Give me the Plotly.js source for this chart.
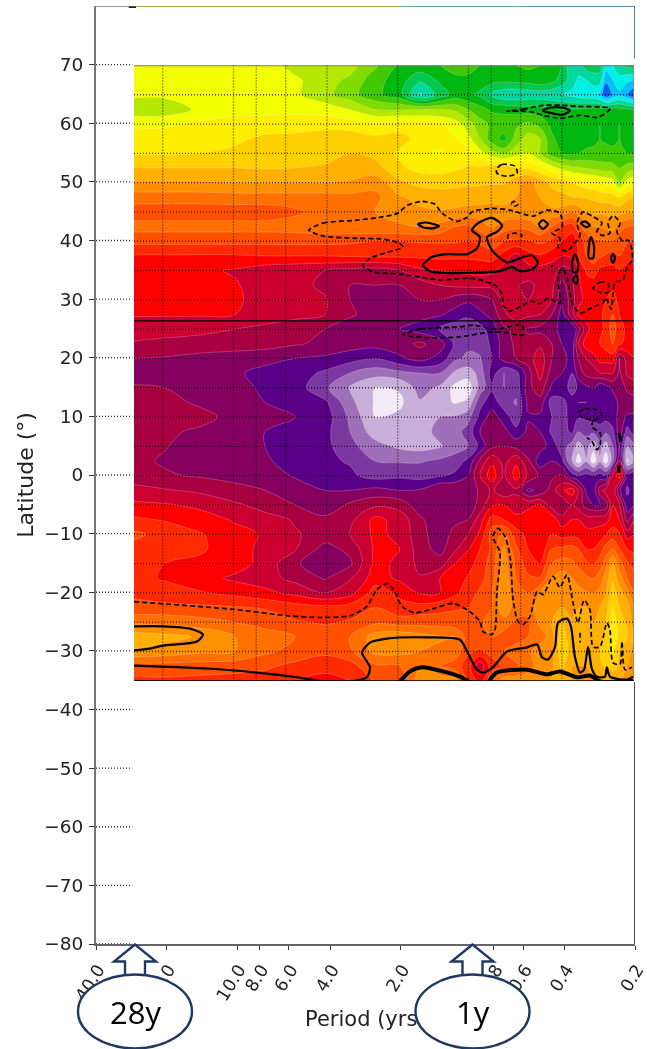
<!DOCTYPE html>
<html><head><meta charset="utf-8">
<script src="https://cdn.plot.ly/plotly-3.0.1.min.js"></script>
<style>html,body{margin:0;padding:0;background:#fff}#chart{width:647px;height:1049px;filter:blur(0.35px)}</style>
</head><body><div id="chart"></div>
<script>
// ---- data -----------------------------------------------------------------
const periods = [26.5,19.56,13.9,9.85,7.34,5.47,4.08,3.19,2.5,1.96,1.61,1.32,1.14,1.006,0.894,0.794,0.706,0.628,0.558,0.496,0.442,0.4,0.362,0.341,0.315,0.294,0.276,0.26,0.243,0.228,0.211,0.1975];
const latitudes = [70,67.5,65,62.5,60,57.5,55,52.5,50,47.5,45,42.5,40,37.5,35,32.5,30,27.5,25,22.5,20,17.5,15,12.5,10,7.5,5,2.5,0,-2.5,-5,-7.5,-10,-12.5,-15,-17.5,-20,-22.5,-25,-27.5,-30,-32.5,-35];
const row70=[16.5,16.5,16.5,16.5,16.5,17.4,17.5,17.6,18.8,20.2,20.3,20,19.5,19.5,20,20.2,20,20,19.8,20,20.2,21,23,22.5,21.5,21.5,21.5,23.5,23,22,21.7,21.5];
const row67=[16.5,16.5,16.5,16.5,16.5,16.8,17.6,18.2,19.6,20.5,21.8,20.8,20.3,20.3,20.5,20.6,20.7,20.6,20.5,20.3,20.6,21.5,22.5,23.2,23,22.5,22.5,24.8,24,23.5,23.8,24];
const row65=[16.8,16.8,16.6,16.5,16.5,16.8,17.7,18.6,19.7,20.6,23.2,21.6,20.6,20.8,21.2,22.3,22.8,22.9,22.7,22.6,22.8,23,23.3,23.5,23.7,23.8,24.2,25.8,24.8,24.2,25,26];
const row62=[17.6,17.6,16.8,16.4,16.4,16.3,16.4,17,18,18.1,18,18,18.2,19,19.6,20.2,20.3,20.4,20.5,20.6,20.8,21,21,20.9,20.8,20.7,20.6,20.7,20.7,20.7,20.9,21];
const row60=[16.2,16.2,15.8,15.6,15.5,15.5,15.5,15.6,15.8,15.6,15.6,15.9,16.5,17.5,18.6,19.2,19.4,19.2,18.8,19.3,20.3,20.5,20.2,20,20.2,20.3,20,20.2,20.3,20,20.1,20.2];
const row57=[15.5,15.5,15.4,15.2,14.8,14.7,14.3,14.3,14.8,14.6,15.4,15.6,15.9,16.6,18,19.6,20.3,18.6,17.5,18,19.8,20.5,20.2,20.4,20.4,20.2,20,20.1,20.2,20,20.3,20.4];
const row55=[15.1,15.1,15,14.8,14.6,14.6,14.3,14,14.3,15.2,15.9,16.1,15.7,15.6,16.6,17.6,18.3,17.4,17,18,19.6,20,20.2,20,19.8,19.8,19.8,19.8,19.8,20,20,20];
const row52=[14,14,14,14,14.1,14,13.9,13.5,13.6,14.8,15.4,15.4,15.2,14.9,14.8,14.4,14.4,14.9,15.2,15.8,16.5,17.3,17.8,17.9,18.1,18.2,18.4,18.5,18.6,19,18.6,18.4];
const row50=[12.9,12.9,12.9,13,13,13,13,12.9,12.4,13.8,14.3,14.4,14.3,14.2,14.2,14.1,14.1,13.5,12.6,13.5,14.2,14.4,15,15.3,15.6,15.7,16,16.2,16.5,18,16.5,16];
const row47=[11.5,11.5,11.5,11.6,11.6,11.6,11.6,11.7,11.7,12.9,13.3,13.5,13.5,13.4,13.3,13.3,13.3,13,12.2,13,13.7,13.8,14,14,14.1,14.2,14.5,14.5,14.6,15,14.3,14];
const row45=[10.4,10.4,10.4,10.4,10.4,10.8,11.5,11.7,12,12.3,12.8,12.9,12.8,12.7,12.7,12.6,12.7,12.8,12.8,12.7,12.7,12.6,12,12.4,13,13.3,13.2,13.2,13.3,13.4,13.1,13];
const row42=[11.4,11.4,11.4,11.4,11.4,11.5,11.7,11.8,11.9,11.9,12,11.7,11,10.8,11.4,12.2,11.5,11.2,11.3,12,11,10,9.5,10.6,11.6,12,12,12.3,12.5,11.5,11,10.8];
const row40=[10.3,10.3,10.3,10.3,10.3,10.3,10.3,10.2,10,10,10.1,10.1,10.1,10,10.2,10.6,10,9.8,9.9,10.2,9.9,9,8.4,9.2,10.4,10.8,10.9,10.9,10.9,10.4,10.1,10];
const row37=[8.9,8.9,8.9,8.9,9,9,9,9.1,9.2,9.2,9.2,9.3,9.2,9.2,9.3,9.5,8.6,7.6,8.6,8.9,8.3,8,8.2,9,10,10.4,10.2,9.9,9.6,10,9.2,9];
const row35=[8.3,8.3,8.2,7.9,7.4,7.2,7,6.7,6.5,7,7.8,8,8.2,8.3,8.3,8.2,7.5,7.3,7.5,7.5,7.6,6.6,7,8,9.2,9.6,8.7,8.6,8.6,8.9,8.8,8.8];
const row32=[8.3,8.3,8.3,8.1,7.5,7.3,6.8,6,6,6,6.5,7,7.2,7.3,7.3,7.3,7.2,7.1,6.8,7.2,7.3,5.6,6.8,7.9,8.3,8.4,8.5,8.6,8.6,8.4,8.5,8.5];
const row30=[8.9,8.2,8.2,8.2,7.5,7.3,7.1,6,5.6,5.6,6,6,5.5,5.2,5.4,6,7.3,7.8,7,7.1,7,5.2,6.5,7.8,8.2,8.2,8.3,9,9.6,8.6,8.2,8.1];
const row27=[8.1,8.1,8.1,8,7.4,7.2,7,6.1,5.7,5.5,5.3,5.1,4.6,4.2,4.8,5.3,6.8,7.5,7.2,7,6,4.6,6.7,8.2,8.6,8.6,8.7,9.4,10,9,8.5,8.4];
const row25=[7.4,7.3,7.2,7,6.8,6.6,6,5.6,5.2,5,4.6,3.9,3.4,3.3,3.6,4.5,5.8,6.3,5.9,5.7,5.5,4.6,4,5.6,7.6,8.5,8.5,9.5,10.4,9.5,8.7,8.5];
const row22=[6.9,6.8,6.7,6.6,6.5,6.1,5.8,5.5,5.4,5.6,6.2,5.5,3.8,3.2,3.4,4.2,5.5,6.2,6.2,6.8,6,5,4.4,7,8.6,9,9,9.5,10,9.2,8.6,8.5];
const row20=[6,5.9,5.6,5.4,5.2,5,4.8,4.4,4,4.8,5.4,4.6,3.2,2.8,2.9,4,5.5,6,6.5,7.6,6,5.4,4.6,6,7,7.5,8.4,8.4,8.5,6,7.5,8];
const row17=[5.2,5.3,5.3,5.1,4.8,4.5,3.8,3,2.4,2.7,3,3,1.8,1.4,2.4,4.5,3,3.6,5.5,7.4,5.5,5,4,5.5,6.3,6.5,7,7,7,5.8,7.2,7.5];
const row15=[6.2,6,5.6,5.2,4.9,4.5,3.2,1.9,1,1.1,2.4,1.8,0.7,0.4,2.4,3.8,3,3.3,5.6,6.6,4.8,4.8,3.4,4.2,4.8,5,4.2,4.6,5.2,5.4,6.2,6.5];
const row12=[6.3,6.2,5.9,5.3,5,4.7,4.2,2.3,0.9,0.8,1.9,1.4,0.9,1.2,3.7,4.5,3.5,2.9,5.2,5.6,3.5,3.6,4.6,4,4,4.3,4,4.2,4.5,5.2,5.4,5.6];
const row10=[6.3,6.3,6.2,5.8,5.2,5,4.5,2.8,1,1.2,1.9,2,2.1,2.6,4.3,5.5,4.5,3.4,4.9,4.8,4,3.6,4.4,4.1,4.2,4.4,4.2,4.3,4.5,5.3,4.9,4.8];
const row7=[6.2,6.1,5.9,5.3,5,4.8,4.3,3,1.5,1.2,1.6,2.3,2.6,3.4,5,6,5.4,4.3,5.2,5,3.8,3.6,4.2,3,3.3,3.2,3.8,3.2,3.8,5.6,3.5,4.5];
const row5=[6.2,6.05,5.6,5.2,5,4.8,4.3,3.3,2.4,1.8,1.6,1.9,2.5,2.9,4.3,5.8,6,5.7,5.2,5.4,4.6,3.4,2.5,1.5,2.4,1.3,2.4,1.4,3,5,2,2.8];
const row2=[6.2,5.9,5.3,5.2,5.1,4.7,4.2,3.9,3,2.9,2.9,3.2,3.5,4.2,6.2,7.8,6.6,7.8,6.2,4.4,5,4.2,2,0.5,1.9,0.4,1.8,0.3,2.6,6,0.8,1.8];
const row0=[6.4,6.1,5.9,5.8,5.5,4.9,4.3,4.2,3.6,3.8,3.6,3.9,4.2,5,7,8.6,6.8,8.5,6.8,5.8,5.8,6.2,4.4,4,4.3,4,4.4,4,7.5,8.5,4.5,5];
const rowS2=[7.4,7.1,6.8,6.2,6,5.5,5,5,5.3,5,5.1,6,6,5.2,6.2,7.2,6.2,6.8,4.8,5.2,6.5,7.8,8.5,7,4.8,4.5,6.5,7.5,7.8,5.2,3.8,4.5];
const rowS5=[8.2,8.1,7.8,7.2,6.6,6,5.2,6.2,6.8,6.6,5.4,5.2,5.3,5.2,6.4,7.8,8,7.5,7.8,8.1,6.5,6,7,6.6,5.5,5,5,5.5,8,7.2,4.4,5];
const rowS7=[9.2,8.9,8.4,7.9,7.4,6.9,6.3,6.7,8.3,7.6,6.2,5.3,5.8,6,7.5,9.5,9,8.3,8.4,9,8.7,7.4,8,8,7.5,7.6,7.6,7.6,8.5,8,5.6,7];
const rowS10=[10.2,9.7,9.1,8.3,7.9,7.1,6.6,7,8.2,7.8,6.3,5.5,6.3,7,8.2,10.5,11.2,9.5,8.7,8.2,9,8.6,8.7,8.6,8.4,8.3,8.5,9,9.5,9.2,7.5,8];
const rowS12=[9.7,9.8,9.2,8.3,7.8,7.1,5.6,6.3,8.2,8,6.5,5.6,6.8,7.9,9,10.2,12.2,10.2,9,8.2,10,10.2,10.4,10,9,9,9.5,10.5,11,10,9,8.8];
const rowS15=[9.2,9,8.7,8.5,7.6,6.2,5.1,5.8,8.3,7.8,6.7,6.5,8,8.6,9.4,10.5,12.5,10.8,9.5,9,11,11.5,11.2,10.8,10.2,10,10.5,11.5,13,11.5,10.2,9.5];
const rowS17=[9.3,8.9,8.4,7.8,7.4,6.7,5.9,6.9,8.5,7.8,7.1,8,8.5,9.1,9.6,10.6,12.7,11,10.2,10.1,12,12.5,12,11.6,11.2,11,11.5,12.5,13.8,12.5,11,10.5];
const rowS20=[9.8,9.4,9.1,8.7,8.3,7.7,7,7.6,9.5,8.8,7.9,8,8.8,9.5,10.2,11,12.8,11.2,11,12,13,13,12.5,12.4,12.1,12,12.3,13,14.5,13.5,12.5,11];
const rowS22=[10.3,10.3,10.2,10.1,9.9,9.5,9.3,9.5,10,9.3,9.4,9.7,9.9,10,10.4,11,12.8,11.5,11.5,12.5,13,13,12.5,12.9,13,12.7,13,13.6,15,14,13.5,12];
const rowS25=[11.8,11.7,11.4,11,10.6,10.1,9.9,10.1,10.8,10.5,10.6,10.5,10.4,10.5,10.8,11.5,11.6,10.8,10.7,12.3,13,14,13,14,14,13,13.5,14,15.5,14.5,13.8,12.5];
const rowS27=[13.5,13.3,12.9,12,11.5,11,10.5,11,12.5,12.8,12.4,12.1,12,10.6,11,11,10.5,10.5,11,11.5,12.5,14.8,13,13.5,13.7,13.5,13.5,14.2,15.7,14.8,14,13];
const rowS30=[12.9,12.6,12.2,12,11.2,10.7,10.3,10.8,12.3,12.3,12,11.8,11.6,10.2,9.8,10.4,11,11.5,11.8,12.5,12.5,14.8,13.5,13.3,13.2,13.5,14,14.5,15.2,14,13.5,12.5];
const rowS32=[10.5,10.6,10.5,10.4,10.2,9.7,9.2,9.6,10.8,11,12,11,10.5,9.5,7.3,9.5,10.2,10.8,11.5,12.5,12.8,14.2,13,13,13,13.2,13.8,14.2,14.5,13.8,13,12.5];
const rowS35=[9.8,9.8,9.7,9.6,9.5,9,8.8,9,10,10,12.6,12.6,12.4,10,8.5,11,12.6,12.6,12.6,12.8,13,13.5,13,13,13,13,13,13,13,13,13,13];
const levels = [row70,row67,row65,row62,row60,row57,row55,row52,row50,row47,row45,row42,row40,row37,row35,row32,row30,row27,row25,row22,row20,row17,row15,row12,row10,row7,row5,row2,row0,rowS2,rowS5,rowS7,rowS10,rowS12,rowS15,rowS17,rowS20,rowS22,rowS25,rowS27,rowS30,rowS32,rowS35];
const bandColors = ['#f2eaf5','#c9aed9','#a06fba','#7b38a0','#5a0088','#860060','#a80040','#cc0030','#ff0000','#ff2a00','#ff5000','#ff7000','#ff9000','#ffb000','#ffd000','#ffee00','#f2ff00','#b4e800','#80dc00','#40c800','#00b810','#00c850','#00d8a0','#00f0e8','#00c0ff','#0060f0','#0020d0'];

// dashed and solid significance contours: [log10(period), latitude]
const dashMain_logP=[.679,.619,.474,.376,.3,.262,.198,.142,.113,.049,.006,-.019,-.1,-.177,-.275,-.334,-.389,-.398,-.355,-.389,-.381,-.419,-.453,-.475,-.462,-.487,-.526,-.568,-.547,-.568,-.602,-.594,-.615,-.645,-.632,-.658,-.679,-.696,-.696,-.67,-.658,-.623,-.615,-.607,-.585,-.572,-.53,-.475,-.445,-.432,-.419,-.398,-.381,-.389,-.338,-.304,-.27,-.232,-.177,-.147,-.143,-.113,-.049,-.006,.121,.291,.398,.449,.419,.347,.279,.3,.376,.474,.619,.679];
const dashMain_lat=[41.9,43.1,43.6,44.1,44.8,46.1,46.8,46.3,44.8,43.4,44.1,45.1,45.6,45.3,44.3,45.3,44.8,42.4,41.4,40.5,39,38.3,39.7,41,43.1,45,44.3,43.1,41.7,41,41.4,43.1,44.4,43.1,41.6,40,40.2,38.5,36.8,35.1,33.4,33,30.5,28.4,30.3,29.4,28.8,27.7,29.1,31.2,33.9,35.4,33.9,29.4,30.3,29.3,29.8,29.1,28.1,29.1,31,32.5,33.4,33.7,33.4,34.4,34.7,35.8,37.1,38.1,39,39.8,40.4,40.5,40.9,41.9];
const dash52_logP=[-.121,-.143,-.198,-.207,-.164,-.121,-.121], dash52_lat=[52.4,53.1,52.8,51.6,51.1,51.6,52.4];
const dash62_logP=[-.164,-.232,-.317,-.402,-.462,-.602,-.589,-.547,-.475,-.389,-.317,-.275,-.232,-.164], dash62_lat=[62.2,62.5,63.2,63.2,63,62.7,62,61.1,61.5,61,61.5,62,62.2,62.2];
const dash46_logP=[-.181,-.194,-.211,-.198,-.181], dash46_lat=[46.5,46.8,46.3,46,46.3];
const dash41_logP=[-.168,-.168,-.198,-.228,-.215], dash41_lat=[40.4,41,41.4,41,40.4];
const dash25_logP=[.279,.206,.036,-.019,-.121,-.228,-.232,-.147,-.092,.036,.164,.279], dash25_lat=[24,25,25.4,25.7,25,25.7,24,24.5,24.5,23.7,23.5,24];
const dash32_logP=[-.53,-.56,-.594,-.594,-.568,-.538,-.53], dash32_lat=[32,33,32.9,31.3,31.2,31.7,32];
const dash10_logP=[-.466,-.496,-.547,-.568,-.538,-.487,-.466], dash10_lat=[10.7,11.4,11.2,10.4,9.5,9.9,10.7];
const dash6_logP=[-.53,-.526,-.56,-.56,-.547,-.526,-.504], dash6_lat=[9.5,8.3,7.3,5.3,4.4,5.8,6.5];
const dashS_logP=[1.423,1.002,.772,.619,.504,.432,.389,.342,.313,.283,.228,.151,.066,-.006,-.049,-.062,-.1,-.113,-.121,-.134,-.104,-.126,-.156,-.177,-.19,-.211,-.232,-.262,-.292,-.317,-.36,-.389,-.419,-.445,-.466,-.492,-.517,-.53,-.56,-.589,-.602,-.615,-.645,-.653,-.666,-.696];
const dashS_lat=[-21.5,-22.8,-23.9,-24.2,-23.9,-22.3,-19.4,-18.4,-19.9,-22.3,-23.4,-22.7,-21.8,-23.2,-24.9,-26.6,-27.1,-26.3,-19.9,-13.1,-10.4,-9,-10.4,-13.8,-21.2,-24.9,-25.4,-24,-19.8,-20.3,-17.2,-19.1,-16.9,-21.7,-25.1,-21.2,-22.9,-29.2,-29.2,-25.1,-26.3,-31.9,-32.2,-28.3,-33.1,-32.7];
const dashShort_logP=[-.475,-.475], dashShort_lat=[-26.8,-28.5];
const solid36_logP=[.194,.155,.091,.006,-.036,-.049,-.015,-.041,-.1,-.143,-.121,-.079,-.1,-.164,-.232,-.27,-.296,-.27,-.219,-.185,-.134,-.019,.108,.164,.194];
const solid36_lat=[35.9,37.3,37.8,37.8,38.8,40.7,41.9,43.1,44,42.7,41.6,40.7,38.5,36.4,37.3,37.6,36.3,35.2,34.9,35.6,34.9,34.6,34.6,34.9,35.9];
const solid62_logP=[-.317,-.347,-.402,-.432,-.402,-.36,-.317], solid62_lat=[62.3,62.8,62.8,62.3,61.6,61.8,62.3];
const solid42_logP=[.215,.185,.125,.151,.194,.215], solid42_lat=[42.9,43.2,42.6,42.2,42.4,42.9];
const ringA_logP=[-.3,-.317,-.338,-.317,-.3], ringA_lat=[42.9,43.6,42.9,42.1,42.9];
const ringB_logP=[-.479,-.496,-.517,-.5,-.479], ringB_lat=[43.1,43.4,42.7,42.4,43.1];
const ringC_logP=[-.513,-.521,-.534,-.53,-.513,-.513], ringC_lat=[39.3,40.7,39.3,37.1,37.1,39.3];
const ringD_logP=[-.441,-.453,-.466,-.462,-.445,-.441], ringD_lat=[36.4,37.8,36.4,34.7,34.7,36.4];
const ringE_logP=[-.445,-.458,-.466,-.458,-.445], ringE_lat=[33.5,34.2,33.5,32.7,33.5];
const ringF_logP=[-.607,-.615,-.624,-.615,-.607], ringF_lat=[37.1,37.8,37.1,36.3,37.1];
const solidSa_logP=[1.423,1.3,1.185,1.13,1.155,1.3,1.355,1.423], solidSa_lat=[-25.7,-25.7,-26.1,-27.1,-28.3,-29,-29.5,-29.8];
const solidSb_logP=[1.423,1.113,.9,.73,.619,.504,.432,.419,.453,.419,.347,.176,.036,.006,-.036,-.062,-.104,-.164,-.249,-.292,-.313,-.338,-.368,-.381,-.419,-.436,-.453,-.475,-.492,-.509,-.526,-.547,-.581,-.589,-.602,-.674,-.7];
const solidSb_lat=[-32.4,-32.9,-33.6,-34.4,-35.1,-35.1,-34.4,-32.7,-30.2,-28.5,-27.8,-27.6,-28,-30,-33.1,-33.6,-32.7,-30,-29.3,-28.8,-31,-31.4,-29.3,-25.1,-24.4,-25.7,-30.9,-33.6,-33.1,-29.2,-33.1,-34.3,-34.3,-32.7,-34.3,-34.8,-34.3];
const thickA_logP=[.296,.249,.198,.108,.036,-.006], thickA_lat=[-35.3,-33.4,-32.7,-33.4,-34.3,-35.3];
const thickB_logP=[-.083,-.121,-.249,-.334,-.389,-.462,-.517,-.56,-.7], thickB_lat=[-35.3,-33.6,-33.1,-33.9,-33.4,-34.4,-34.1,-35.1,-35];
const barA_logP=[-.64,-.649], barA_lat=[7.3,5.8];
const barB_logP=[-.64,-.64], barB_lat=[1.8,.5];
const dot_logP=[-.353,-.358], dot_lat=[35.9,35.6];

const xTickVals=[40,20,10,8,6,4,2,1,0.8,0.6,0.4,0.2];
const xTickText=['40.0','20.0','10.0','8.0','6.0','4.0','2.0','1.0','0.8','0.6','0.4','0.2'];
const yTickVals=[70,60,50,40,30,20,10,0,-10,-20,-30,-40,-50,-60,-70,-80];
const innerGridPeriods=[20,10,8,6,4,2,1,0.8,0.6,0.4];
const innerGridLats=[65,60,55,50,45,40,35,30,25,20,15,10,5,0,-5,-10,-15,-20,-25,-30];

// ---- traces ---------------------------------------------------------------
const nB=bandColors.length, scale=[];
bandColors.forEach((c,i)=>{scale.push([i/nB,c]);scale.push([(i+1)/nB,c]);});
const traces=[{type:'contour',x:periods,y:latitudes,z:levels,xaxis:'x2',yaxis:'y2',zmin:0,zmax:nB,colorscale:scale,showscale:false,hoverinfo:'skip',
  contours:{coloring:'fill',start:1,end:nB-1,size:1},line:{color:'rgba(255,225,235,0.35)',width:0.7,smoothing:1}}];
const inner=(x,y,line)=>traces.push({type:'scatter',mode:'lines',x,y,xaxis:'x2',yaxis:'y2',line,hoverinfo:'skip',showlegend:false,cliponaxis:false});
const outer=(x,y,line)=>traces.push({type:'scatter',mode:'lines',x,y,xaxis:'x',yaxis:'y',line,hoverinfo:'skip',showlegend:false,cliponaxis:false});
const gridLine={color:'rgba(0,0,0,0.75)',width:1.3,dash:'1px,2px'};
innerGridPeriods.forEach(p=>inner([p,p],[70,-35],gridLine));
innerGridLats.forEach(l=>inner([26.5,0.1975],[l,l],gridLine));
yTickVals.forEach(l=>outer([40,28],[l,l],{color:'rgba(0,0,0,0.8)',width:1.3,dash:'1px,2px'}));
inner([26.5,0.1975],[70,70],{color:'#777',width:1.5});
inner([0.1975,0.1975],[70,-35],{color:'#888',width:1.5});
inner([26.5,0.1975],[26.4,26.4],{color:'#000',width:1.3});
inner([26.5,0.1975],[-35,-35],{color:'#000',width:1.5});
const dashed={color:'#000',width:1.7,dash:'5px,3px',shape:'spline',smoothing:0.7};
const solid={color:'#000',width:2.2,shape:'spline',smoothing:0.7};
const thick={color:'#000',width:4,shape:'spline',smoothing:0.7};
const L=a=>a.map(v=>Math.pow(10,v));
[[dashMain_logP,dashMain_lat],[dash52_logP,dash52_lat],[dash62_logP,dash62_lat],[dash46_logP,dash46_lat],[dash41_logP,dash41_lat],[dash25_logP,dash25_lat],[dash32_logP,dash32_lat],[dash10_logP,dash10_lat],[dash6_logP,dash6_lat],[dashS_logP,dashS_lat],[dashShort_logP,dashShort_lat]].forEach(p=>inner(L(p[0]),p[1],dashed));
[[solid36_logP,solid36_lat],[solid62_logP,solid62_lat],[solid42_logP,solid42_lat],[ringA_logP,ringA_lat],[ringB_logP,ringB_lat],[ringC_logP,ringC_lat],[ringD_logP,ringD_lat],[ringE_logP,ringE_lat],[ringF_logP,ringF_lat],[solidSa_logP,solidSa_lat],[solidSb_logP,solidSb_lat]].forEach(p=>inner(L(p[0]),p[1],solid));
[[thickA_logP,thickA_lat],[thickB_logP,thickB_lat]].forEach(p=>inner(L(p[0]),p[1],thick));
[[barA_logP,barA_lat],[barB_logP,barB_lat],[dot_logP,dot_lat]].forEach(p=>inner(L(p[0]),p[1],{color:'#000',width:3}));
// frame slivers left visible around the pasted picture
outer([40,27],[80,80],{color:'#777',width:1.5});
outer([27,2],[80,80],{color:'#6f9212',width:1.5});
outer([2,0.6],[80,80],{color:'#2f8f6a',width:1.5});
outer([0.6,0.2],[80,80],{color:'#2a6f8f',width:1.5});
outer([0.2,0.2],[80,71],{color:'#1f5f6f',width:1.5});
outer([0.2,0.2],[-35.3,-80],{color:'#111',width:1.5});
outer([29,27],[79.8,79.8],{color:'#111',width:1.5});

// ---- page furniture -------------------------------------------------------
const W=539,H=939,px=x=>(x-96)/W,py=y=>(944.5-y)/H;
const navy='#1f3864';
const arrow=c=>({type:'path',xref:'paper',yref:'paper',layer:'above',fillcolor:'#fff',line:{color:navy,width:2.4},
  path:['M',px(c),py(945),'L',px(c-21),py(962),'L',px(c-10),py(962),'L',px(c-10),py(985),'L',px(c+10),py(985),'L',px(c+10),py(962),'L',px(c+21),py(962),'Z'].join(' ')});
const ell=c=>({type:'circle',xref:'paper',yref:'paper',layer:'above',fillcolor:'#fff',line:{color:navy,width:2.4},x0:px(c-57),x1:px(c+57),y0:py(1049),y1:py(975)});
const note=(c,t)=>({xref:'paper',yref:'paper',x:px(c),y:py(1013),xanchor:'center',yanchor:'middle',text:t,showarrow:false,font:{family:'Open Sans, Liberation Sans, sans-serif',size:31,color:'#000'}});
const font='DejaVu Sans, sans-serif';
const layout={width:647,height:1049,margin:{l:96,r:12,t:5.5,b:104.5},paper_bgcolor:'#fff',plot_bgcolor:'#fff',showlegend:false,
  xaxis:{type:'log',range:[Math.log10(40),Math.log10(0.2)],tickmode:'array',tickvals:xTickVals,ticktext:xTickText,tickangle:-58,ticks:'outside',ticklen:4,tickcolor:'#333',ticklabelshift:-2,ticklabelstandoff:3,ticklabeloverflow:'allow',showgrid:false,zeroline:false,showline:true,linecolor:'#666',linewidth:1.5,tickfont:{family:font,size:17.5,color:'#222'}},
  yaxis:{range:[-80,80],tickmode:'array',tickvals:yTickVals,ticks:'outside',ticklen:5,tickcolor:'#333',ticklabelstandoff:2,showgrid:false,zeroline:false,showline:true,linecolor:'#777',linewidth:2,tickfont:{family:font,size:18.5,color:'#222'},title:{text:'Latitude (°)',font:{family:font,size:22,color:'#222'},standoff:5}},
  xaxis2:{type:'log',domain:[px(134),px(634)],range:[Math.log10(26.5),Math.log10(0.1975)],anchor:'y2',visible:false},
  yaxis2:{domain:[py(681),py(65)],range:[-35,70],anchor:'x2',visible:false},
  shapes:[arrow(135),ell(135),arrow(472.5),ell(472.5)],
  annotations:[note(135,'28y'),note(472.5,'1y'),{xref:'paper',yref:'paper',x:px(303),y:py(1020),xanchor:'left',yanchor:'middle',text:'Period (yrs',showarrow:false,font:{family:font,size:21,color:'#222'}}]};
Plotly.newPlot('chart',traces,layout,{displayModeBar:false,staticPlot:true});
</script></body></html>
